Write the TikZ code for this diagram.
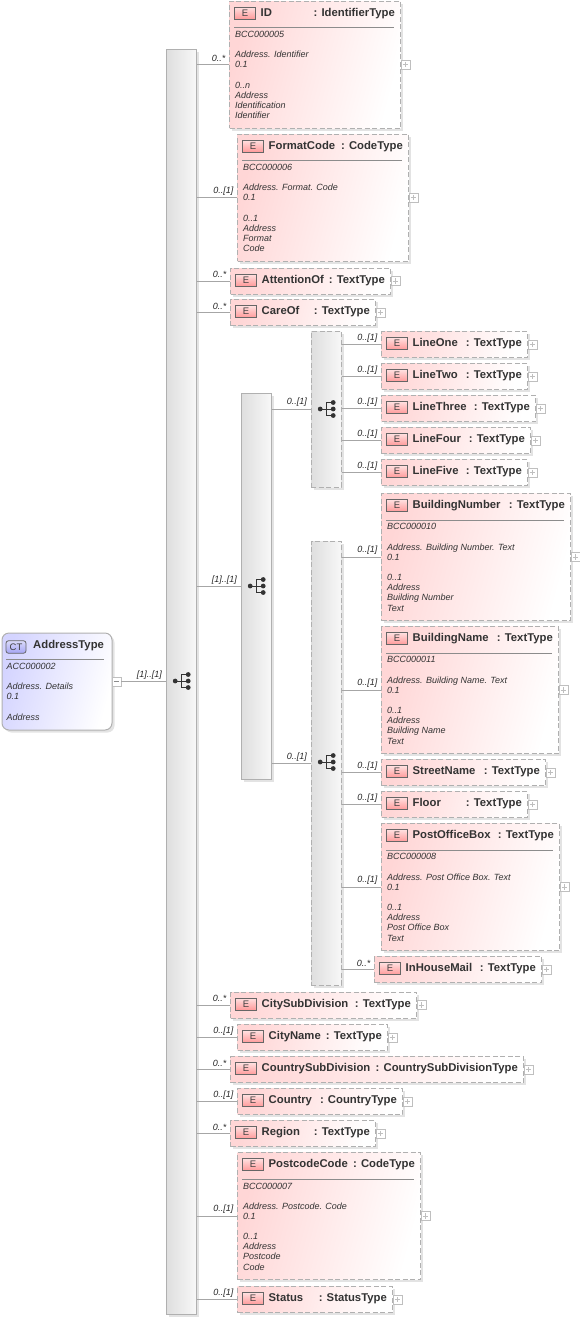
\documentclass[tikz,border=0pt]{standalone}
\usepackage{fontspec}
\setmainfont{Liberation Sans}
\usetikzlibrary{shadows}

\definecolor{elemred}{HTML}{FFD6D6}
\definecolor{iconred}{HTML}{FF9A9A}
\definecolor{rootblue}{HTML}{D4D4FF}
\definecolor{iconblue}{HTML}{A4A4F4}
\definecolor{edgegrey}{HTML}{B0B0B0}
\definecolor{barfill}{HTML}{DEDEDE}
\definecolor{linkgrey}{HTML}{A6A6A6}
\definecolor{inkgrey}{HTML}{333333}

\begin{document}
\begin{tikzpicture}[
    x=1pt, y=-1pt,
    softshadow/.style={drop shadow={shadow xshift=2.5pt, shadow yshift=-2.5pt,
                       fill=black!18, opacity=0.6}},
    elem/.style={rectangle, draw=edgegrey, dash pattern=on 5pt off 2.5pt, line width=1pt,
                 softshadow, left color=elemred, right color=white, shading angle=75,
                 inner sep=0pt, anchor=north west},
    seqbar/.style={rectangle, draw=edgegrey, line width=1pt, softshadow,
                   left color=barfill, right color=white!97!black,
                   inner sep=0pt, minimum width=30pt},
    choicebar/.style={seqbar, dash pattern=on 5pt off 2.5pt},
    root/.style={rectangle, rounded corners=7pt, draw=edgegrey, line width=1pt, softshadow,
                 left color=rootblue, right color=white, shading angle=75,
                 inner sep=0pt, minimum width=110pt, minimum height=97pt},
    eicon/.style={rectangle, draw=black!60, line width=0.8pt, top color=white!70!iconred,
                  bottom color=iconred, minimum width=21.5pt, minimum height=12pt, inner sep=0pt,
                  font=\fontsize{9.5}{10}\selectfont, text=black!75},
    cticon/.style={rectangle, rounded corners=2.5pt, draw=black!60, line width=0.8pt,
                   top color=white!60!iconblue, bottom color=iconblue,
                   minimum width=20pt, minimum height=12.5pt, inner sep=0pt,
                   font=\fontsize{9.5}{10}\selectfont, text=black!75},
    title/.style={font=\fontsize{11.3}{12}\bfseries\selectfont, text=inkgrey, inner sep=0pt},
    doctext/.style={font=\fontsize{9}{10.13}\itshape\selectfont, text=inkgrey, align=left,
                    inner sep=0pt, anchor=north west},
    mult/.style={font=\fontsize{9}{10}\itshape\selectfont, text=black!85, inner sep=0pt,
                 anchor=east},
    expander/.style={rectangle, draw=black!25, fill=white, minimum size=9pt, inner sep=0pt},
    conn/.style={-, linkgrey, line width=0.9pt},
    sepline/.style={-, black!45, line width=0.9pt},
    signline/.style={-, black!45, line width=0.8pt},
    seqicon/.pic={
        \draw[inkgrey, line width=0.9pt] (-6.5,0) -- (6.5,0) (6.5,-6.5) -- (0,-6.5) -- (0,6.5) -- (6.5,6.5);
        \foreach \ya in {-6.5,0,6.5} {\fill[inkgrey] (6.5,\ya) circle (2.4pt);}
        \fill[inkgrey] (-6.5,0) circle (2.4pt);
    },
]

\useasboundingbox (0,0) rectangle (579,1318);

% --- Compositors ---
\node[seqbar, minimum height=1265pt] (mainbar) at (181,681.5) {};
\node[seqbar, minimum height=386pt] (addrbar) at (256,586) {};
\node[choicebar, minimum height=156pt] (linebar) at (326,409) {};
\node[choicebar, minimum height=444pt] (placebar) at (326,763) {};
\pic at (181.7,681) {seqicon};
\pic at (256.7,586) {seqicon};
\pic at (326.7,409) {seqicon};
\pic at (326.7,762) {seqicon};

% --- Root type ---
\node[root] (address) at (57,681.5) {};
\node[cticon] (ct) at (16,647) {CT};
\node[title, anchor=base west] (addresstitle) at (33,648) {AddressType};
\draw[sepline] (6,659.5) -- (104,659.5);
\node[doctext] (addressdoc) at (6.5,663) {ACC000002\\~\\Address. Details\\0.1\\~\\Address};
\node[expander] (addressplus) at (116.5,681.5) {};
\draw[signline] ([xshift=2pt]addressplus.west) -- ([xshift=-2pt]addressplus.east);
\draw[conn] (addressplus.east) -- (addressplus.east -| mainbar.west);
\node[mult] (addressmult) at (162,675.5) {[1]..[1]};

% --- Link from sequence to sequence ---
\draw[conn] (mainbar.east |- addrbar.west) -- (addrbar.west);
\node[mult] (addrmult) at (237,580) {[1]..[1]};
\draw[conn] (addrbar.east |- linebar.west) -- (linebar.west);
\node[mult] (linemult) at (307,402.5) {0..[1]};
\draw[conn] (addrbar.east |- placebar.west) -- (placebar.west);
\node[mult] (placemult) at (307,757) {0..[1]};

% --- Elements with documentation ---
\foreach \n/\typ/\xl/\yt/\w/\host/\num/\doc in {
    ID/IdentifierType/229/0.5/171/mainbar/0..*/{BCC000005\\~\\Address. Identifier\\0.1\\~\\0..n\\Address\\Identification\\Identifier},
    FormatCode/CodeType/237/133.5/171/mainbar/0..[1]/{BCC000006\\~\\Address. Format. Code\\0.1\\~\\0..1\\Address\\Format\\Code},
    BuildingNumber/TextType/381/493/189/placebar/0..[1]/{BCC000010\\~\\Address. Building Number. Text\\0.1\\~\\0..1\\Address\\Building Number\\Text},
    BuildingName/TextType/381/626/177/placebar/0..[1]/{BCC000011\\~\\Address. Building Name. Text\\0.1\\~\\0..1\\Address\\Building Name\\Text},
    PostOfficeBox/TextType/381/823/178/placebar/0..[1]/{BCC000008\\~\\Address. Post Office Box. Text\\0.1\\~\\0..1\\Address\\Post Office Box\\Text},
    PostcodeCode/CodeType/237/1152/183/mainbar/0..[1]/{BCC000007\\~\\Address. Postcode. Code\\0.1\\~\\0..1\\Address\\Postcode\\Code}} {
    \node[elem, minimum width=\w pt, minimum height=127pt] (\n) at (\xl,\yt) {};
    \node[eicon] (\n-e) at ([xshift=16pt,yshift=-12.5pt]\n.north west) {E};
    \node[title, anchor=base west] (\n-name) at ([xshift=31.5pt,yshift=-15.5pt]\n.north west) {\n};
    \node[title, anchor=base east] (\n-type) at ([xshift=-6pt,yshift=-15.5pt]\n.north east) {: \typ};
    \draw[sepline] ([xshift=5pt,yshift=-27pt]\n.north west) -- ([xshift=-7pt,yshift=-27pt]\n.north east);
    \node[doctext] (\n-doc) at ([xshift=6pt,yshift=-30.5pt]\n.north west) {\doc};
    \node[expander] (\n-plus) at ([xshift=4.5pt]\n.east) {};
    \draw[signline, black!25] ([xshift=2pt]\n-plus.west) -- ([xshift=-2pt]\n-plus.east) ([yshift=-2pt]\n-plus.north) -- ([yshift=2pt]\n-plus.south);
    \draw[conn] (\host.east |- \n.west) -- (\n.west);
    \node[mult] (\n-mult) at ([xshift=-3.5pt,yshift=6.5pt]\n.west) {\num};
}

% --- Elements without documentation ---
\foreach \n/\typ/\xl/\yt/\w/\host/\num in {
    AttentionOf/TextType/230/267.5/160/mainbar/0..*,
    CareOf/TextType/230/299/145/mainbar/0..*,
    LineOne/TextType/381/331/146/linebar/0..[1],
    LineTwo/TextType/381/363/146/linebar/0..[1],
    LineThree/TextType/381/395/154/linebar/0..[1],
    LineFour/TextType/381/427/149/linebar/0..[1],
    LineFive/TextType/381/459/146/linebar/0..[1],
    StreetName/TextType/381/759/164/placebar/0..[1],
    Floor/TextType/381/791/146/placebar/0..[1],
    InHouseMail/TextType/374/956/167/placebar/0..*,
    CitySubDivision/TextType/230/991.5/186/mainbar/0..*,
    CityName/TextType/237/1024/150/mainbar/0..[1],
    CountrySubDivision/CountrySubDivisionType/230/1056/293/mainbar/0..*,
    Country/CountryType/237/1088/165/mainbar/0..[1],
    Region/TextType/230/1120/145/mainbar/0..*,
    Status/StatusType/237/1286/155/mainbar/0..[1]} {
    \node[elem, minimum width=\w pt, minimum height=26pt] (\n) at (\xl,\yt) {};
    \node[eicon] (\n-e) at ([xshift=16pt,yshift=-12.5pt]\n.north west) {E};
    \node[title, anchor=base west] (\n-name) at ([xshift=31.5pt,yshift=-15.5pt]\n.north west) {\n};
    \node[title, anchor=base east] (\n-type) at ([xshift=-6pt,yshift=-15.5pt]\n.north east) {: \typ};
    \node[expander] (\n-plus) at ([xshift=4.5pt]\n.east) {};
    \draw[signline, black!25] ([xshift=2pt]\n-plus.west) -- ([xshift=-2pt]\n-plus.east) ([yshift=-2pt]\n-plus.north) -- ([yshift=2pt]\n-plus.south);
    \draw[conn] (\host.east |- \n.west) -- (\n.west);
    \node[mult] (\n-mult) at ([xshift=-3.5pt,yshift=6.5pt]\n.west) {\num};
}

\end{tikzpicture}
\end{document}
